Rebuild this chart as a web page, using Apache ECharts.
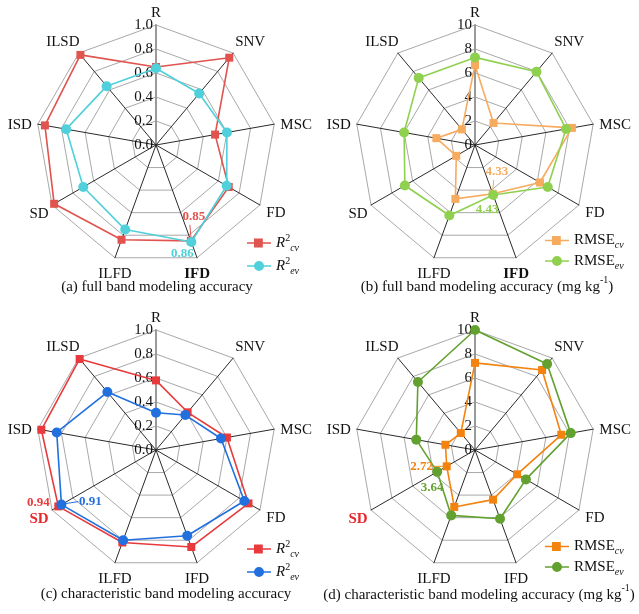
<!DOCTYPE html>
<html><head><meta charset="utf-8">
<script src="https://cdn.jsdelivr.net/npm/echarts@6/dist/echarts.min.js"></script>
<style>html,body{margin:0;padding:0;background:#fff}#c{width:639px;height:614px}</style>
</head><body><div id="c"></div>
<script>
// ---- data (clockwise from top) ----
const indicators = ['R','SNV','MSC','FD','IFD','ILFD','SD','ISD','ILSD'];
const aCv = [0.65, 0.95, 0.50, 0.70, 0.85, 0.84, 0.98, 0.94, 0.98];
const aEv = [0.64, 0.56, 0.60, 0.68, 0.86, 0.75, 0.70, 0.76, 0.64];
const bCv = [6.67, 2.40, 8.20, 6.25, 4.33, 4.78, 1.80, 3.27, 1.70];
const bEv = [7.30, 7.97, 7.70, 7.00, 4.43, 6.25, 6.75, 6.00, 7.30];
const cCv = [0.58, 0.41, 0.60, 0.89, 0.86, 0.82, 0.94, 0.97, 0.99];
const cEv = [0.31, 0.38, 0.55, 0.85, 0.76, 0.80, 0.91, 0.84, 0.63];
const dCv = [7.26, 8.70, 7.30, 4.05, 4.40, 5.05, 2.72, 2.50, 1.84];
const dEv = [10.0, 9.35, 8.10, 4.90, 6.10, 5.80, 3.64, 4.97, 7.40];
const titles = [
  '{t|(a) full band modeling accuracy}',
  '{t|(b) full band modeling accuracy (mg kg}{s|-1}{t|)}',
  '{t|(c) characteristic band modeling accuracy}',
  '{t|(d) characteristic band modeling accuracy (mg kg}{s|-1}{t|)}'
];

// ECharts radar runs counter-clockwise: reorder so the chart reads clockwise
const cw = (arr) => [arr[0]].concat(arr.slice(1).reverse());

// ---- layout / style ----
const FONT = '"Liberation Serif","Times New Roman",serif';
const R = 120;
const panels = [
  {center:[156,145], max:1, dec:1, cv:aCv, ev:aEv, colors:['#E0534E','#4FD0DA'], kind:'R', bold:'IFD', boldColor:'#111', title:[157,285]},
  {center:[475,145], max:10, dec:0, cv:bCv, ev:bEv, colors:['#F7AB5E','#8FD14F'], kind:'RMSE', bold:'IFD', boldColor:'#111', title:[487,285]},
  {center:[156,450], max:1, dec:1, cv:cCv, ev:cEv, colors:['#E83A3C','#2170DE'], kind:'R', bold:'SD', boldColor:'#E8262B', title:[166,592]},
  {center:[475,450], max:10, dec:0, cv:dCv, ev:dEv, colors:['#F4820F','#62A12F'], kind:'RMSE', bold:'SD', boldColor:'#E8262B', title:[479,593]}
];
// axis-name offsets from each outer vertex (clockwise order)
const nameOff = [[0,-12],[17,-11],[22,1],[16,8],[0,16],[0,16],[-13,9],[-18,1],[-16,-11]];
const legendPos = [[242,228],[540,228],[242,534],[540,534]];
// annotations: panel, series, axis index (clockwise order), label offset from point, leader line
const annots = [
  {p:0, s:'cv', ax:4, dx:3, dy:-24, line:[[-1,-16],[0,-4]]},
  {p:0, s:'ev', ax:4, dx:-9, dy:12, line:null},
  {p:1, s:'cv', ax:4, dx:4, dy:-22, line:[[1,-14],[0,-4]]},
  {p:1, s:'ev', ax:4, dx:-6, dy:15, line:null},
  {p:2, s:'cv', ax:6, dx:-20, dy:-4, line:null},
  {p:2, s:'ev', ax:6, dx:29, dy:-3, line:[[4,-1],[17,-3]]},
  {p:3, s:'cv', ax:6, dx:-25, dy:0, line:[[-14,0],[-4,0]]},
  {p:3, s:'ev', ax:6, dx:-5, dy:16, line:null}
];

function pt(p, ax, v) {
  const P = panels[p];
  const ang = (90 - ax * 40) * Math.PI / 180;
  const r = v / P.max * R;
  return [P.center[0] + r * Math.cos(ang), P.center[1] - r * Math.sin(ang)];
}

const SQ = 'path://M0,4.3H7V5.7H0Z M7,0.6H15.8V9.4H7Z M15.8,4.3H24V5.7H15.8Z';
const CI = 'path://M0,4.3H8V5.7H0Z M16,4.3H24V5.7H16Z M17,5A5,5,0,1,1,7,5A5,5,0,1,1,17,5Z';

const radars = [], series = [], legends = [], graphics = [];
panels.forEach((P, i) => {
  radars.push({
    center: P.center, radius: R, startAngle: 90, shape: 'polygon', splitNumber: 5,
    indicator: cw(indicators).map((n, k) => k === 0 ? {
      name: n, min: 0, max: P.max,
      axisLabel: {show: true},
      axisLine: {lineStyle: {color: '#9a9a9a', width: 2}}
    } : {name: n, min: 0, max: P.max}),
    axisName: {show: false},
    splitLine: {lineStyle: {color: '#a8a8a8', width: 1}},
    splitArea: {show: false},
    axisLine: {lineStyle: {color: '#2a2a2a', width: 1}},
    axisTick: {show: false},
    axisLabel: {show: false, color: '#111', fontFamily: FONT, fontSize: 15, margin: 0,
      padding: [0, 3, 0, 0],
      formatter: (v) => Number(v).toFixed(P.dec)}
  });
  // axis names
  indicators.forEach((n, k) => {
    const [x, y] = pt(i, k, P.max);
    const b = n === P.bold;
    graphics.push({
      type: 'text', x: x + nameOff[k][0], y: y + nameOff[k][1], z: 5,
      style: {text: n, align: 'center', verticalAlign: 'middle',
        font: (b ? 'bold ' : '') + '15px ' + FONT, fill: b ? P.boldColor : '#111'}
    });
  });
  const id = 'abcd'[i];
  [['cv', P.cv, 'rect', 8], ['ev', P.ev, 'circle', 10]].forEach(([s, vals, sym, size], j) => {
    series.push({
      type: 'radar', radarIndex: i, name: id + '_' + s,
      symbol: sym, symbolSize: size,
      lineStyle: {color: P.colors[j], width: 1.6},
      itemStyle: {color: P.colors[j]},
      data: [{value: cw(vals), name: id + '_' + s}],
      z: 2 + j
    });
  });
  legends.push({
    orient: 'vertical', left: legendPos[i][0], top: legendPos[i][1],
    itemWidth: 24, itemHeight: 10, itemGap: 3, selectedMode: false,
    data: [{name: id + '_cv', icon: SQ}, {name: id + '_ev', icon: CI}],
    formatter: (n) => {
      const s = n.split('_')[1];
      return P.kind === 'R' ? '{i|R}{sup|2}{sub|' + s + '}' : '{n|RMSE}{sub|' + s + '}';
    },
    textStyle: {
      fontFamily: FONT, fontSize: 15, color: '#111',
      rich: {
        i: {fontFamily: FONT, fontSize: 15, fontStyle: 'italic', color: '#111', lineHeight: 20, verticalAlign: 'middle'},
        n: {fontFamily: FONT, fontSize: 15, color: '#111', lineHeight: 20, verticalAlign: 'middle'},
        sup: {fontFamily: FONT, fontSize: 10, color: '#111', verticalAlign: 'top', lineHeight: 20},
        sub: {fontFamily: FONT, fontSize: 10, fontStyle: 'italic', color: '#111', verticalAlign: 'bottom', lineHeight: 20}
      }
    }
  });
  graphics.push({
    type: 'text', x: P.title[0], y: P.title[1],
    style: {
      text: titles[i], align: 'center', verticalAlign: 'middle',
      rich: {
        t: {fontFamily: FONT, fontSize: 15, fill: '#111', lineHeight: 20, verticalAlign: 'bottom'},
        s: {fontFamily: FONT, fontSize: 10, fill: '#111', lineHeight: 20, verticalAlign: 'top'}
      }
    }
  });
});

annots.forEach(A => {
  const P = panels[A.p];
  const vals = A.s === 'cv' ? P.cv : P.ev;
  const v = vals[A.ax];
  const col = P.colors[A.s === 'cv' ? 0 : 1];
  const [x, y] = pt(A.p, A.ax, v);
  graphics.push({
    type: 'text', x: x + A.dx, y: y + A.dy, z: 10,
    style: {text: v.toFixed(2), fill: col, font: 'bold 13px ' + FONT, align: 'center', verticalAlign: 'middle'}
  });
  if (A.line) {
    graphics.push({
      type: 'line', z: 9,
      shape: {x1: x + A.line[0][0], y1: y + A.line[0][1], x2: x + A.line[1][0], y2: y + A.line[1][1]},
      style: {stroke: col, lineWidth: 1}
    });
  }
});

const chart = echarts.init(document.getElementById('c'), null, {renderer: 'canvas'});
chart.setOption({
  backgroundColor: '#fff',
  animation: false,
  radar: radars,
  legend: legends,
  series: series,
  graphic: graphics
});
</script></body></html>
